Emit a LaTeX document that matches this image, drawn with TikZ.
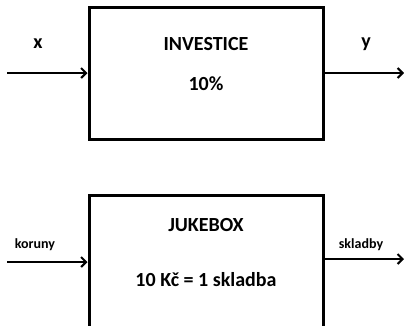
\documentclass[tikz,border=0pt]{standalone}
\usepackage{fontspec}
\setmainfont{Carlito}
\usetikzlibrary{arrows.meta}

\begin{document}
\begin{tikzpicture}[
    x=1pt, y=-1pt,
    boxWidth/.style={minimum width=234pt},
    boxHeight/.style={minimum height=132pt},
    every node/.style={
        text centered, font=\bfseries, inner sep=0pt
        },
    bigText/.style={font=\bfseries\fontsize{20}{22}\selectfont},
    smallText/.style={font=\bfseries\fontsize{14}{16}\selectfont},
    flow/.style={line width=2pt, -{Straight Barb[length=5pt, width=10pt, line width=2pt]}}
        ]
    \useasboundingbox (0, 0) rectangle (404, 325);

    \node[boxWidth, boxHeight, draw, line width=3pt] (invest) at (206, 73) {};
    \node[bigText, yshift=29pt] (investName) at (invest.center) {INVESTICE};
    \node[bigText, yshift=-11pt] (investRate) at (invest.center) {10\%};

    \node[boxWidth, boxHeight, draw, line width=3pt] (juke) at (206, 261) {};
    \node[bigText, yshift=36pt] (jukeName) at (juke.center) {JUKEBOX};
    \node[bigText, yshift=-19pt] (jukeRate) at (juke.center) {10 Kč = 1 skladba};

    \coordinate (xIn) at (7, 73);
    \coordinate (yOut) at (404, 73);
    \coordinate (kIn) at (7, 262);
    \coordinate (sOut) at (404, 259);

    \node[bigText] (xLabel) at (38, 44) {x};
    \node[bigText] (yLabel) at (366, 44) {y};
    \node[smallText] (kLabel) at (35, 245) {koruny};
    \node[smallText] (sLabel) at (361, 245) {skladby};

    \draw[flow] (xIn) -- (xIn -| invest.west);
    \draw[flow] (invest.east |- yOut) -- (yOut);
    \draw[flow] (kIn) -- (kIn -| juke.west);
    \draw[flow] (juke.east |- sOut) -- (sOut);
\end{tikzpicture}
\end{document}
